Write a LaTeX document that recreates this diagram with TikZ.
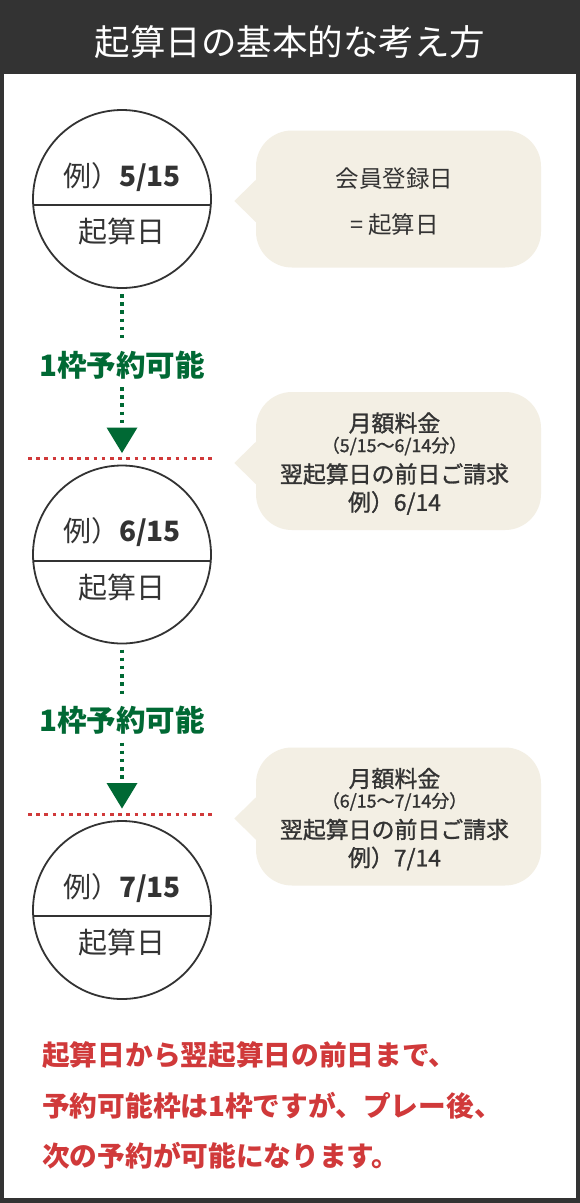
\documentclass[tikz,border=0pt]{standalone}
\usepackage{fontspec}
\setmainfont{Noto Sans CJK JP}
\newfontfamily\medfont[FakeBold=1.2]{Noto Sans CJK JP}
\usetikzlibrary{calc}
\definecolor{dark}{HTML}{333333}
\definecolor{beige}{HTML}{F3EFE4}
\definecolor{grn}{HTML}{006934}
\definecolor{rd}{HTML}{D0393A}
\begin{document}
\begin{tikzpicture}[x=1pt,y=-1pt,
  datecircle/.style={circle,draw=dark,line width=1.8pt,minimum size=178pt,inner sep=0},
  chord/.style={draw=dark,line width=2pt},
  ctext/.style={text=dark,font=\fontsize{28}{28}\selectfont,inner sep=0},
  ktext/.style={text=dark,font=\fontsize{29}{29}\selectfont,inner sep=0},
  bubble/.style={fill=beige,rounded corners=36pt,minimum width=285pt,inner sep=0},
  btext/.style={text=dark,inner sep=0,font=\fontsize{23.5}{23.5}\selectfont},
  bmed/.style={text=dark,inner sep=0,font=\medfont\fontsize{22.9}{22.9}\selectfont},
  bsmall/.style={text=dark,inner sep=0,font=\medfont\fontsize{17.9}{17.9}\selectfont},
  gdot/.style={draw=grn,line width=4pt,dash pattern=on 3.5pt off 4.7pt},
  rdot/.style={draw=rd,line width=3pt,dash pattern=on 3.5pt off 4.7pt},
  glabel/.style={text=grn,font=\bfseries\fontsize{29.5}{29.5}\selectfont,inner sep=0},
  rtext/.style={text=rd,font=\bfseries\fontsize{27.7}{27.7}\selectfont,inner sep=0,anchor=west},
]
\useasboundingbox (0,0) rectangle (580,1203);
\fill[dark] (0,0) rectangle (580,1203);
\fill[white] (4,74) rectangle (576,1198);
\node[text=white,font=\fontsize{35.5}{35.5}\selectfont,inner sep=0] (title) at (290,42) {起算日の基本的な考え方};

% circles
\foreach \i/\y in {1/199,2/554.5,3/910}{
  \node[datecircle] (c\i) at (122,\y) {};
  \draw[chord] ($(c\i.center)+(-88.5,6)$) -- ($(c\i.center)+(88.5,6)$);
}
\node[ctext] (d1) at ($(c1.center)+(0,-22)$) {例）\textbf{5/15}};
\node[ktext] (k1) at ($(c1.center)+(0,33)$) {起算日};
\node[ctext] (d2) at ($(c2.center)+(0,-22)$) {例）\textbf{6/15}};
\node[ktext] (k2) at ($(c2.center)+(0,33)$) {起算日};
\node[ctext] (d3) at ($(c3.center)+(0,-22)$) {例）\textbf{7/15}};
\node[ktext] (k3) at ($(c3.center)+(0,33)$) {起算日};

% green connectors and red lines
\foreach \i in {1,2}{
  \node[glabel] (g\i) at ($(c\i.center)+(0,166)$) {1枠予約可能};
  \coordinate (t\i) at ($(c\i.center)+(0,254)$);
  \draw[gdot] ($(c\i.center)+(0,95)$) -- ($(g\i.center)+(0,-27)$);
  \draw[gdot] ($(g\i.center)+(0,22)$) -- ($(t\i)+(0,-28)$);
  \fill[grn] (t\i) -- ++(-15.5,-25.5) -- ++(31,0) -- cycle;
  \coordinate (ra\i) at ($(c\i.center)+(-94,259.5)$);
  \coordinate (rb\i) at ($(c\i.center)+(94,259.5)$);
  \draw[rdot] (ra\i) -- (rb\i);
}

% bubbles
\node[bubble,minimum height=137pt] (b1) at (398.5,199) {};
\node[bubble,minimum height=138pt] (b2) at ($(ra1)+(370.5,2.5)$) {};
\node[bubble,minimum height=138pt] (b3) at ($(ra2)+(370.5,2.5)$) {};
\foreach \i in {1,2,3}{
  \fill[beige] ($(b\i.west)+(2,-21)$) -- ($(b\i.west)+(-21.5,2)$) -- ($(b\i.west)+(2,25)$) -- cycle;
}
\node[btext] (m1a) at ($(b1.center)+(-4,-20)$) {会員登録日};
\node[btext] (m1b) at ($(b1.center)+(-4,26)$) {= 起算日};

\node[bmed] (m2a) at ($(b2.center)+(-4,-38)$) {月額料金};
\node[bsmall] (m2b) at ($(b2.center)+(-4,-15)$) {（5/15〜6/14分）};
\node[bmed] (m2c) at ($(b2.center)+(-4,13)$) {翌起算日の前日ご請求};
\node[bmed] (m2d) at ($(b2.center)+(-4,42)$) {例）6/14};

\node[bmed] (m3a) at ($(b3.center)+(-4,-38)$) {月額料金};
\node[bsmall] (m3b) at ($(b3.center)+(-4,-15)$) {（6/15〜7/14分）};
\node[bmed] (m3c) at ($(b3.center)+(-4,13)$) {翌起算日の前日ご請求};
\node[bmed] (m3d) at ($(b3.center)+(-4,42)$) {例）7/14};

% bottom note
\node[rtext] (n1) at (42,1055) {起算日から翌起算日の前日まで、};
\node[rtext] (n2) at (42,1106) {予約可能枠は1枠ですが、プレー後、};
\node[rtext] (n3) at (42,1156) {次の予約が可能になります。};
\end{tikzpicture}
\end{document}
